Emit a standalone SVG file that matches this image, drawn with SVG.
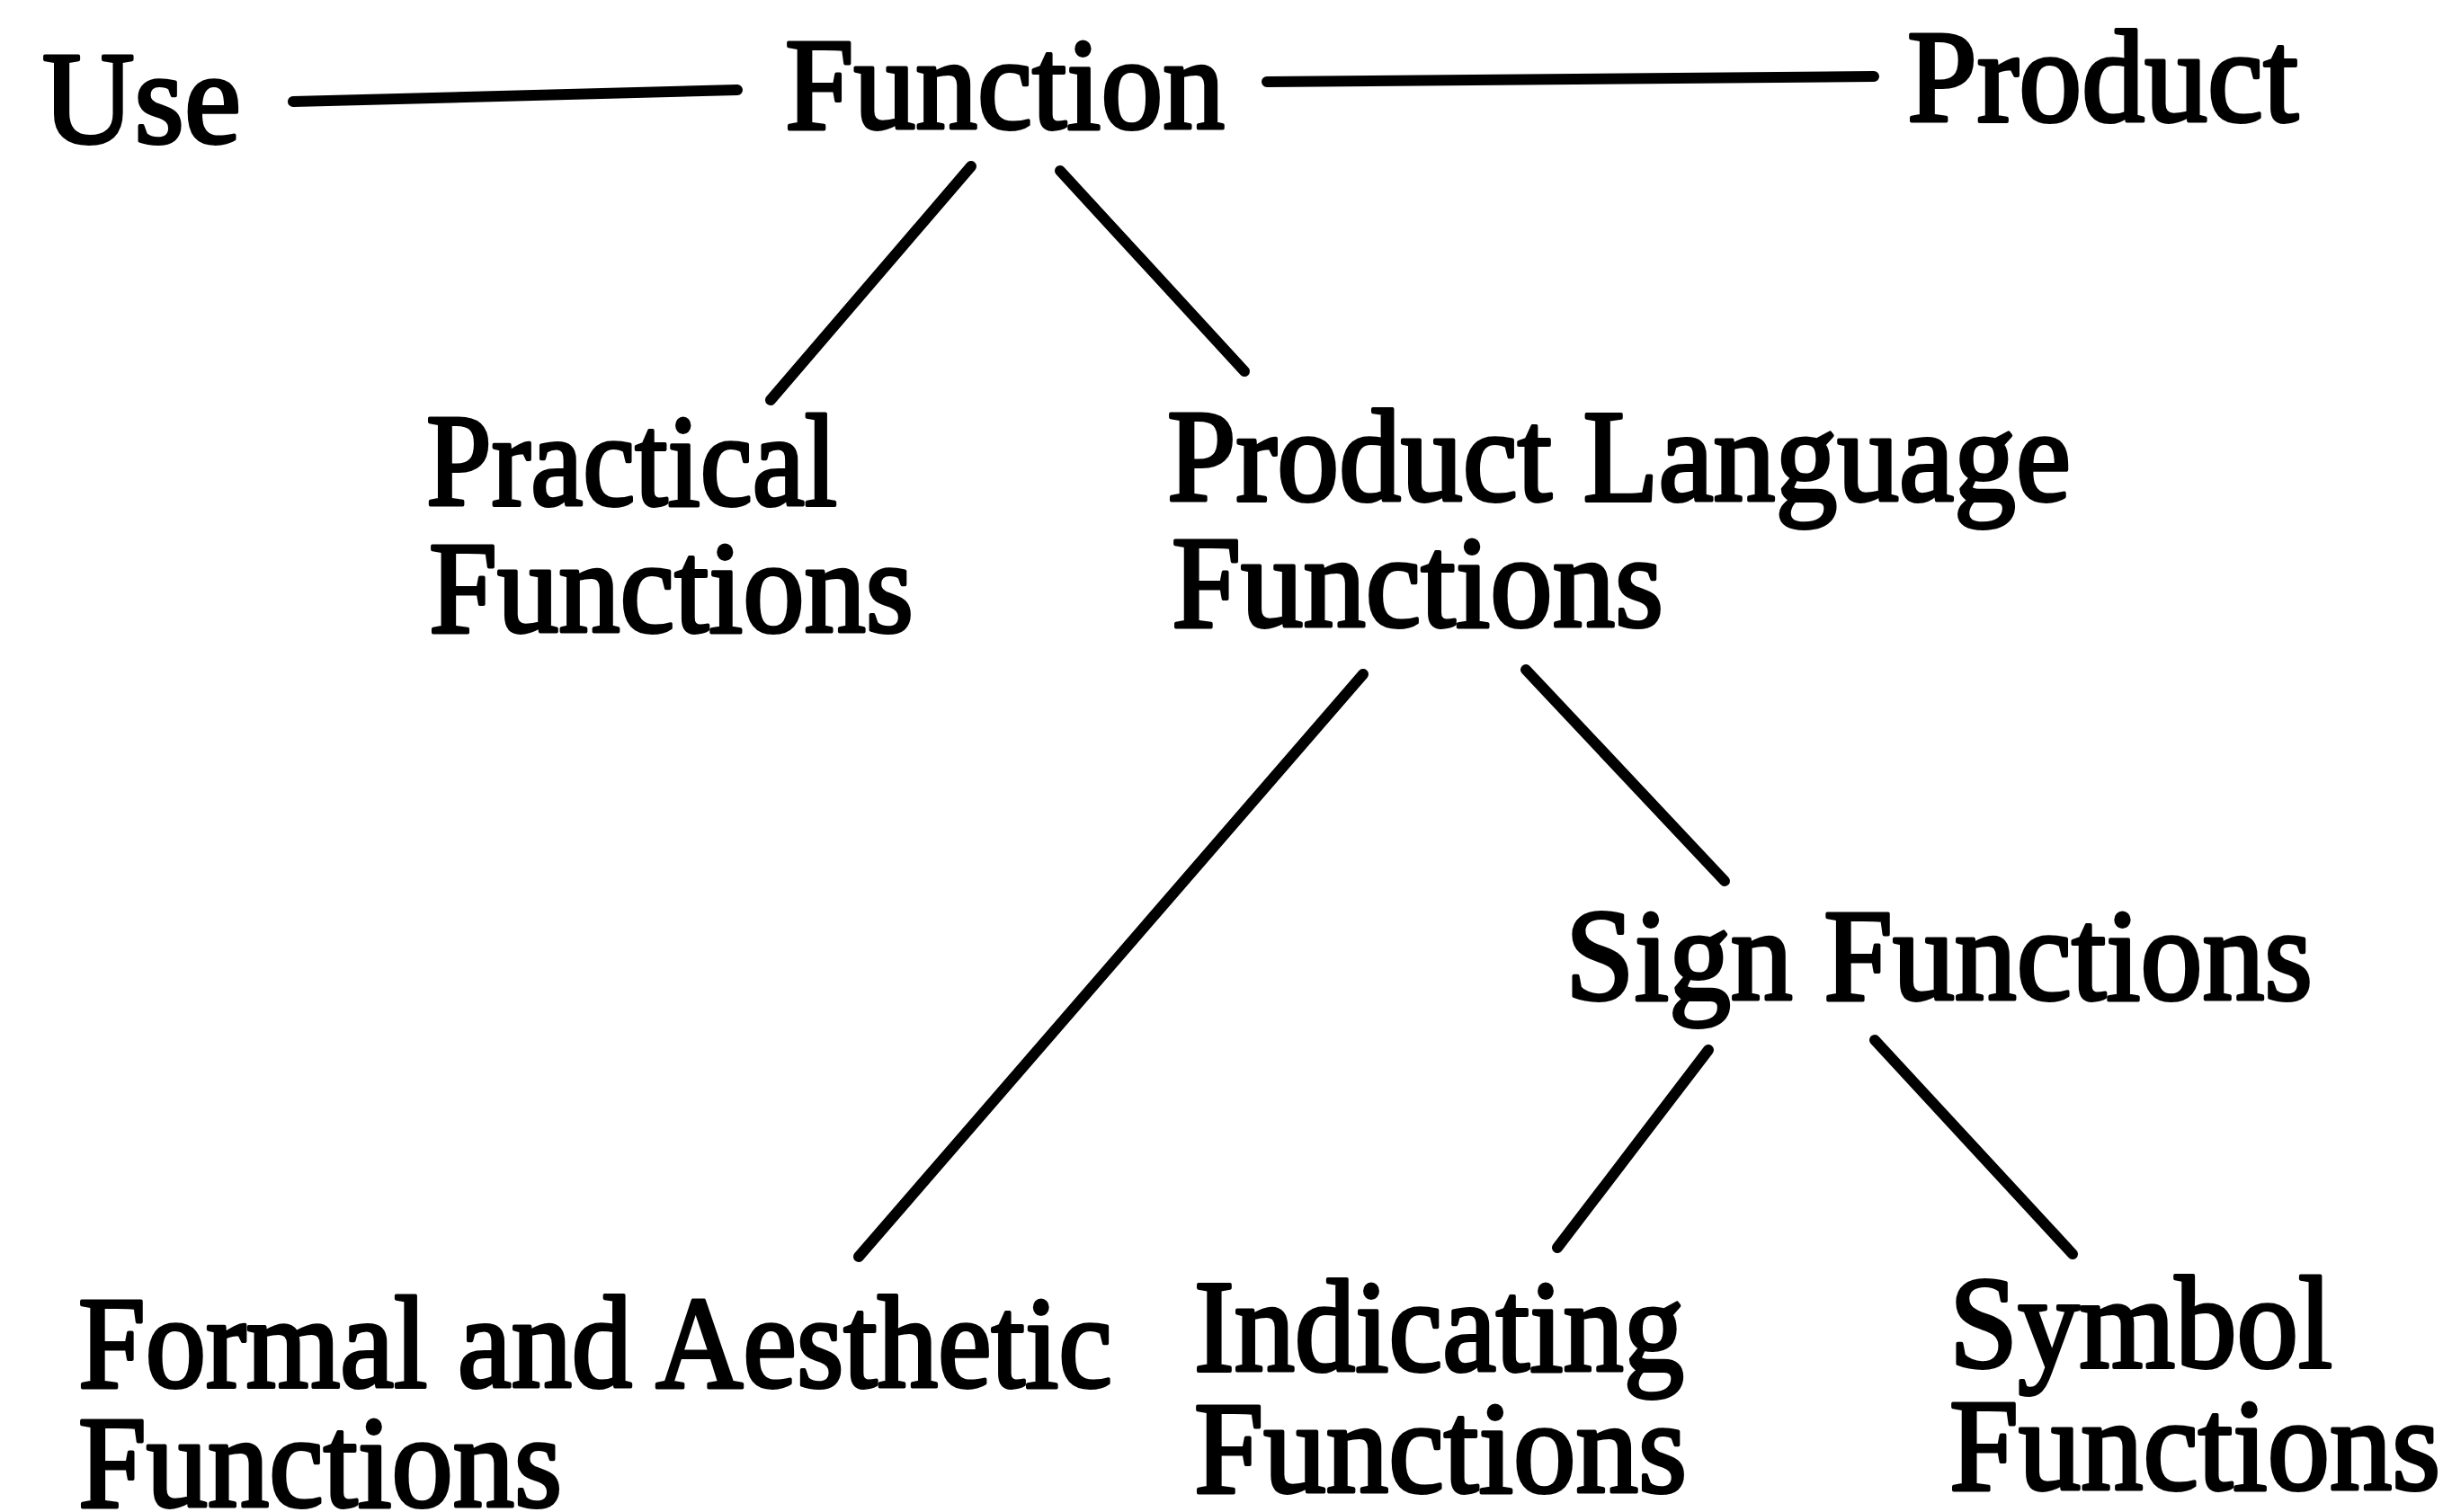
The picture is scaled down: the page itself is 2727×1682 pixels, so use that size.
<svg xmlns="http://www.w3.org/2000/svg" width="2727" height="1682" viewBox="0 0 2727 1682">
<style>
.t{font-family:"Liberation Serif","Times New Roman",serif;font-size:147px;fill:#000;stroke:#000;stroke-width:4;stroke-linejoin:round}
.c line{stroke:#000;stroke-width:12;stroke-linecap:round}
</style>
<rect width="2727" height="1682" fill="#fff"/>
<g class="c" id="connectors">
<line x1="326" y1="113" x2="820" y2="100"/>
<line x1="1409" y1="91" x2="2084" y2="85"/>
<line x1="1080" y1="185" x2="857" y2="445"/>
<line x1="1179" y1="190" x2="1384" y2="413"/>
<line x1="1516" y1="750" x2="955" y2="1398"/>
<line x1="1697" y1="745" x2="1918" y2="980"/>
<line x1="1900" y1="1168" x2="1732" y2="1388"/>
<line x1="2085" y1="1157" x2="2305" y2="1395"/>
</g>
<g id="use"><text class="t" x="47" y="159" textLength="221" lengthAdjust="spacingAndGlyphs">Use</text></g>
<g id="function"><text class="t" x="873" y="143" textLength="489" lengthAdjust="spacingAndGlyphs">Function</text></g>
<g id="product"><text class="t" x="2121" y="135" textLength="435" lengthAdjust="spacingAndGlyphs">Product</text></g>
<g id="practical"><text class="t" x="474" y="562" textLength="457" lengthAdjust="spacingAndGlyphs">Practical</text><text class="t" x="477" y="703" textLength="539" lengthAdjust="spacingAndGlyphs">Functions</text></g>
<g id="product-language"><text class="t" x="1298" y="557" textLength="1005" lengthAdjust="spacingAndGlyphs">Product Language</text><text class="t" x="1303" y="697" textLength="547" lengthAdjust="spacingAndGlyphs">Functions</text></g>
<g id="sign"><text class="t" x="1741" y="1112" textLength="831" lengthAdjust="spacingAndGlyphs">Sign Functions</text></g>
<g id="formal"><text class="t" x="87" y="1543" textLength="1150" lengthAdjust="spacingAndGlyphs">Formal and Aesthetic</text><text class="t" x="87" y="1676" textLength="538" lengthAdjust="spacingAndGlyphs">Functions</text></g>
<g id="indicating"><text class="t" x="1328" y="1525" textLength="545" lengthAdjust="spacingAndGlyphs">Indicating</text><text class="t" x="1328" y="1660" textLength="548" lengthAdjust="spacingAndGlyphs">Functions</text></g>
<g id="symbol"><text class="t" x="2168" y="1521" textLength="426" lengthAdjust="spacingAndGlyphs">Symbol</text><text class="t" x="2168" y="1657" textLength="546" lengthAdjust="spacingAndGlyphs">Functions</text></g>
</svg>
